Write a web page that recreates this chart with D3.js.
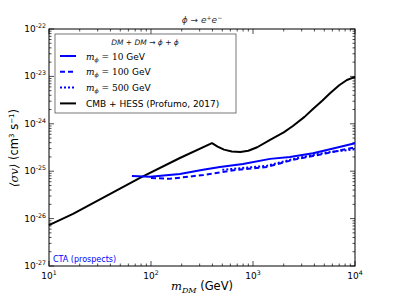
<!DOCTYPE html>
<html>
<head>
<meta charset='utf-8'>
<title>sigma v limits</title>
<script src='https://cdn.jsdelivr.net/npm/d3@7'></script>
<style>
  body { margin: 0; background: #fff; }
  text { font-family: 'DejaVu Sans', sans-serif; }
</style>
</head>
<body>
<svg width='395' height='296'></svg>
<script>
// data (m_DM in GeV, <sigma v> in cm^3/s)
const cmbMass = [10, 17.2, 78, 192, 396, 450, 520, 620, 750, 900, 1100, 1470, 2000, 2460, 3200, 3870, 4800, 5690, 7000, 8330, 10000]
const cmbSigma = [7.3e-27, 1.26e-26, 7.2e-26, 1.9e-25, 3.9e-25, 3.3e-25, 2.85e-25, 2.6e-25, 2.55e-25, 2.7e-25, 3.2e-25, 4.6e-25, 6.6e-25, 9.0e-25, 1.4e-24, 2.05e-24, 3.1e-24, 4.4e-24, 6.5e-24, 8.4e-24, 9.8e-24]

const m10Mass = [65, 98, 192, 324, 474, 797, 1470, 2300, 3870, 5300, 10000]
const m10Sigma = [7.9e-26, 7.6e-26, 8.7e-26, 1.07e-25, 1.23e-25, 1.42e-25, 1.82e-25, 2.0e-25, 2.4e-25, 2.8e-25, 3.9e-25]

const m100Mass = [100, 153, 324, 697, 1370, 2460, 5300, 10000]
const m100Sigma = [7.2e-26, 6.9e-26, 8.3e-26, 1.07e-25, 1.23e-25, 1.73e-25, 2.4e-25, 3.2e-25]

const m500Mass = [500, 1370, 2460, 5300, 10000]
const m500Sigma = [1.07e-25, 1.3e-25, 1.8e-25, 2.5e-25, 2.9e-25]

const xTicks = [1e1, 1e2, 1e3, 1e4]
const yTicks = [1e-27, 1e-26, 1e-25, 1e-24, 1e-23, 1e-22]

const svg = d3.select('svg')
const plotL = 49, plotR = 355, plotT = 29, plotB = 266

const x = d3.scaleLog().domain([10, 1e4]).range([plotL, plotR])
const y = d3.scaleLog().domain([1e-27, 1e-22]).range([plotB, plotT])

// frame
svg.append('rect')
  .attr('x', plotL).attr('y', plotT)
  .attr('width', plotR - plotL).attr('height', plotB - plotT)
  .attr('fill', 'none').attr('stroke', '#000').attr('stroke-width', 1)

// minor ticks
const xMinor = []
for (let e = 1; e < 4; e++) for (let k = 2; k < 10; k++) xMinor.push(k * Math.pow(10, e))
const yMinor = []
for (let e = -27; e < -22; e++) for (let k = 2; k < 10; k++) yMinor.push(k * Math.pow(10, e))

const ticks = svg.append('g').attr('stroke', '#000').attr('stroke-width', 0.7)
xMinor.forEach(v => {
  ticks.append('line').attr('x1', x(v)).attr('x2', x(v)).attr('y1', plotB).attr('y2', plotB - 2.5)
  ticks.append('line').attr('x1', x(v)).attr('x2', x(v)).attr('y1', plotT).attr('y2', plotT + 2.5)
})
xTicks.forEach(v => {
  ticks.append('line').attr('x1', x(v)).attr('x2', x(v)).attr('y1', plotB).attr('y2', plotB - 5)
  ticks.append('line').attr('x1', x(v)).attr('x2', x(v)).attr('y1', plotT).attr('y2', plotT + 5)
})
yMinor.forEach(v => {
  ticks.append('line').attr('y1', y(v)).attr('y2', y(v)).attr('x1', plotL).attr('x2', plotL + 2.5)
  ticks.append('line').attr('y1', y(v)).attr('y2', y(v)).attr('x1', plotR).attr('x2', plotR - 2.5)
})
yTicks.forEach(v => {
  ticks.append('line').attr('y1', y(v)).attr('y2', y(v)).attr('x1', plotL).attr('x2', plotL + 5)
  ticks.append('line').attr('y1', y(v)).attr('y2', y(v)).attr('x1', plotR).attr('x2', plotR - 5)
})

// tick labels
const expOf = v => Math.round(Math.log10(v))
xTicks.forEach(v => {
  const t = svg.append('text').attr('x', x(v)).attr('y', plotB + 13)
    .attr('text-anchor', 'middle').attr('font-size', 9).attr('fill', '#000')
  t.append('tspan').text('10')
  t.append('tspan').attr('dy', -4).attr('font-size', 6.3).text(expOf(v))
})
yTicks.forEach(v => {
  const t = svg.append('text').attr('x', plotL - 3).attr('y', y(v) + 3)
    .attr('text-anchor', 'end').attr('font-size', 9).attr('fill', '#000')
  t.append('tspan').text('10')
  t.append('tspan').attr('dy', -4).attr('font-size', 6.3).text(expOf(v))
})

// curves
const line = d3.line().x(d => x(d[0])).y(d => y(d[1]))
const zip = (a, b) => a.map((v, i) => [v, b[i]])

svg.append('path').datum(zip(cmbMass, cmbSigma))
  .attr('d', line).attr('fill', 'none').attr('stroke', '#000').attr('stroke-width', 2)
  .attr('stroke-linejoin', 'round')
svg.append('path').datum(zip(m10Mass, m10Sigma))
  .attr('d', line).attr('fill', 'none').attr('stroke', '#0000ff').attr('stroke-width', 2)
svg.append('path').datum(zip(m100Mass, m100Sigma))
  .attr('d', line).attr('fill', 'none').attr('stroke', '#0000ff').attr('stroke-width', 2)
  .attr('stroke-dasharray', '5,3')
svg.append('path').datum(zip(m500Mass, m500Sigma))
  .attr('d', line).attr('fill', 'none').attr('stroke', '#0000ff').attr('stroke-width', 2)
  .attr('stroke-dasharray', '2,2')

// CTA label
svg.append('text').attr('x', 53).attr('y', 262).attr('font-size', 8)
  .attr('fill', '#0000ff').text('CTA (prospects)')

// legend
const lg = svg.append('g')
lg.append('rect').attr('x', 55).attr('y', 34).attr('width', 181).attr('height', 79)
  .attr('fill', '#fff').attr('stroke', '#555').attr('stroke-width', 0.8)
lg.append('text').attr('x', 145).attr('y', 45).attr('text-anchor', 'middle')
  .attr('font-size', 7.5).attr('font-family', 'DejaVu Serif').attr('font-style', 'italic')
  .attr('fill', '#222').text('DM + DM \u2192 \u03d5 + \u03d5')

const legendRows = [
  { dash: null, color: '#0000ff', label: '10 GeV', mphi: true },
  { dash: '5,3', color: '#0000ff', label: '100 GeV', mphi: true },
  { dash: '2,2', color: '#0000ff', label: '500 GeV', mphi: true },
  { dash: null, color: '#000', label: 'CMB + HESS (Profumo, 2017)', mphi: false }
]
legendRows.forEach((r, i) => {
  const yy = 56 + i * 15.8
  lg.append('line').attr('x1', 60).attr('x2', 76).attr('y1', yy).attr('y2', yy)
    .attr('stroke', r.color).attr('stroke-width', 2)
    .attr('stroke-dasharray', r.dash)
  const t = lg.append('text').attr('x', 86).attr('y', yy + 3.5).attr('font-size', 9).attr('fill', '#000')
  if (r.mphi) {
    t.append('tspan').attr('font-family', 'DejaVu Serif').attr('font-style', 'italic').text('m')
    t.append('tspan').attr('font-family', 'DejaVu Serif').attr('font-style', 'italic')
      .attr('font-size', 6).attr('dy', 2).text('\u03d5')
    t.append('tspan').attr('dy', -2).attr('font-family', 'DejaVu Serif').text(' = ' + r.label.split(' ')[0])
    t.append('tspan').text(' GeV')
  } else {
    t.text(r.label)
  }
})

// title
const title = svg.append('text').attr('x', 202).attr('y', 23).attr('text-anchor', 'middle')
  .attr('font-size', 9).attr('font-family', 'DejaVu Serif').attr('font-style', 'italic').attr('fill', '#333')
title.append('tspan').text('\u03d5 \u2192 e')
title.append('tspan').attr('dy', -3).attr('font-size', 6).text('+')
title.append('tspan').attr('dy', 3).text('e')
title.append('tspan').attr('dy', -3).attr('font-size', 6).text('\u2212')

// x label
const xl = svg.append('text').attr('x', 202).attr('y', 290).attr('text-anchor', 'middle')
  .attr('font-size', 11.5).attr('fill', '#000')
xl.append('tspan').attr('font-family', 'DejaVu Serif').attr('font-style', 'italic').text('m')
xl.append('tspan').attr('font-family', 'DejaVu Serif').attr('font-style', 'italic')
  .attr('font-size', 8).attr('dy', 3).text('DM')
xl.append('tspan').attr('dy', -3).text(' (GeV)')

// y label
const yl = svg.append('text').attr('transform', 'translate(18,148) rotate(-90)')
  .attr('text-anchor', 'middle').attr('font-size', 11.5).attr('fill', '#000')
yl.append('tspan').attr('font-family', 'DejaVu Serif').attr('font-style', 'italic').text('\u27e8\u03c3v\u27e9')
yl.append('tspan').text(' (cm')
yl.append('tspan').attr('dy', -4).attr('font-size', 7).text('3')
yl.append('tspan').attr('dy', 4).text(' s')
yl.append('tspan').attr('dy', -4).attr('font-size', 7).text('\u22121')
yl.append('tspan').attr('dy', 4).text(')')
</script>
</body>
</html>
